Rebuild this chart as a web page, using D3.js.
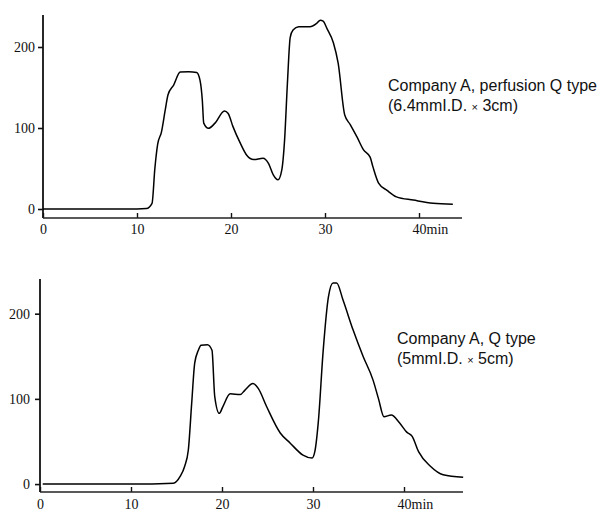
<!DOCTYPE html>
<html>
<head>
<meta charset="utf-8">
<script src="https://cdn.jsdelivr.net/npm/d3@7"></script>
<style>
  html, body { margin: 0; padding: 0; background: #fff; }
  svg { display: block; }
  .axis text { font-family: "Liberation Serif", "Times New Roman", serif; font-size: 14px; fill: #111; }
  .axis path, .axis line { stroke: #111; }
  .note { font-family: "Liberation Sans", Arial, sans-serif; font-size: 16px; fill: #111; }
  .times { font-size: 11px; }
</style>
</head>
<body>
<svg id="chart" width="598" height="511"></svg>
<script>
// Elution profiles: [time (min), absorbance]
const perfusionQ = [
  [0,0],[5,0],[10,0],[11,0.5],[11.6,7],[11.9,50],[12.2,80],[12.6,95],[13.0,122],[13.3,141],
  [13.9,153],[14.6,169],[15.5,169.5],[16.35,168.5],[16.7,159],[16.95,134],[17.1,106],[17.6,99.6],
  [18.3,106],[19.3,121],[19.7,118],[20.2,102],[21.0,81],[21.7,66],[22.4,61],[23.4,62.6],[24.0,56],
  [24.5,42],[25.0,36],[25.4,48],[25.7,85],[26.0,155],[26.3,212],[26.6,221],[27.2,225],[28.4,225],
  [29.1,229],[29.5,233],[29.8,232],[30.2,223],[30.9,205],[31.4,180],[32.1,116],[32.7,104],[33.4,89],
  [34.1,73],[34.8,64],[35.1,52],[35.7,32],[36.6,23],[37.6,15],[39.4,11],[41.5,7],[43.6,5.8]
];
const standardQ = [
  [0.3,0],[5,0],[10,0],[14.65,1],[15.4,9],[15.9,21],[16.3,40],[16.67,95],[17.0,142],[17.4,157],
  [17.7,163],[18.4,163.5],[18.9,157],[19.2,103],[19.7,83],[20.1,91],[20.9,106],[22.0,105],[22.5,110],
  [23.4,118],[24.0,112],[24.9,91],[26.4,60],[27.5,48],[28.9,34],[29.9,30.5],[30.2,38],[30.6,75],
  [31.1,154],[31.7,220],[32.2,236],[32.6,236],[33.3,216],[34.4,181],[35.5,150],[36.6,122],[37.2,100],
  [37.8,79],[38.6,81],[39.5,72],[40.3,61],[40.9,56],[41.6,38],[42.9,21],[44.3,11],[46.5,8]
];
const xTicks = [0, 10, 20, 30, 40];
const yTicks = [0, 100, 200];
const unitLabel = "min";
// column descriptions; each second line is split around the multiplication sign
const notesTop = ["Company A, perfusion Q type", ["(6.4mmI.D. ", "\u00d7", " 3cm)"]];
const notesBottom = ["Company A, Q type", ["(5mmI.D. ", "\u00d7", " 5cm)"]];

const svg = d3.select("#chart");

function panel(cfg) {
  const g = svg.append("g");
  const x = d3.scaleLinear().domain(cfg.xDomain).range([cfg.left, cfg.right]);
  const y = d3.scaleLinear().domain(cfg.yDomain).range([cfg.bottom, cfg.top]);

  // y axis: outward ticks, full-height spine
  const ya = g.append("g").attr("class", "axis").attr("transform", `translate(${cfg.left},0)`)
    .call(d3.axisLeft(y).tickValues(yTicks).tickSize(5).tickSizeOuter(0).tickPadding(cfg.yPad));
  ya.select(".domain").remove();
  ya.selectAll("line").attr("stroke-width", 1.6);
  g.append("line").attr("x1", cfg.left).attr("x2", cfg.left)
    .attr("y1", cfg.top).attr("y2", cfg.bottom)
    .attr("stroke", "#111").attr("stroke-width", 1.8);

  // x axis: inward ticks
  const xa = g.append("g").attr("class", "axis").attr("transform", `translate(0,${cfg.bottom})`)
    .call(d3.axisBottom(x).tickValues(xTicks).tickSize(-5).tickSizeOuter(0).tickPadding(cfg.xPad)
      .tickFormat(d => d === 40 ? d + unitLabel : d));
  xa.select(".domain").remove();
  xa.selectAll("line").attr("stroke-width", 1.4);
  xa.selectAll("text").filter(d => d === 40).attr("text-anchor", "start").attr("x", -7);
  g.append("line").attr("x1", cfg.left).attr("x2", cfg.right)
    .attr("y1", cfg.bottom).attr("y2", cfg.bottom)
    .attr("stroke", "#222").attr("stroke-width", 1.6);

  // elution curve
  const line = d3.line().x(d => x(d[0])).y(d => y(d[1])).curve(d3.curveMonotoneX);
  g.append("path").datum(cfg.data).attr("d", line)
    .attr("fill", "none").attr("stroke", "#000").attr("stroke-width", 1.5)
    .attr("stroke-linejoin", "round");

  // column description
  const t1 = g.append("text").attr("class", "note").attr("x", cfg.noteX).attr("y", cfg.noteY)
    .text(cfg.notes[0]);
  const t2 = g.append("text").attr("class", "note").attr("x", cfg.noteX).attr("y", cfg.noteY + 20);
  cfg.notes[1].forEach((s, i) => {
    t2.append("tspan").attr("class", i === 1 ? "times" : null).text(s);
  });
}

panel({
  data: perfusionQ, notes: notesTop,
  left: 43, right: 462, top: 15, bottom: 218,
  xDomain: [0, (462 - 43) / 9.4], yDomain: [-11.1, 239.5],
  xPad: 6, yPad: 3, noteX: 388, noteY: 91
});

panel({
  data: standardQ, notes: notesBottom,
  left: 40, right: 463, top: 279, bottom: 492,
  xDomain: [0, (463 - 40) / 9.1], yDomain: [-9.3, 240.7],
  xPad: 7, yPad: 5, noteX: 397, noteY: 344
});
</script>
</body>
</html>
